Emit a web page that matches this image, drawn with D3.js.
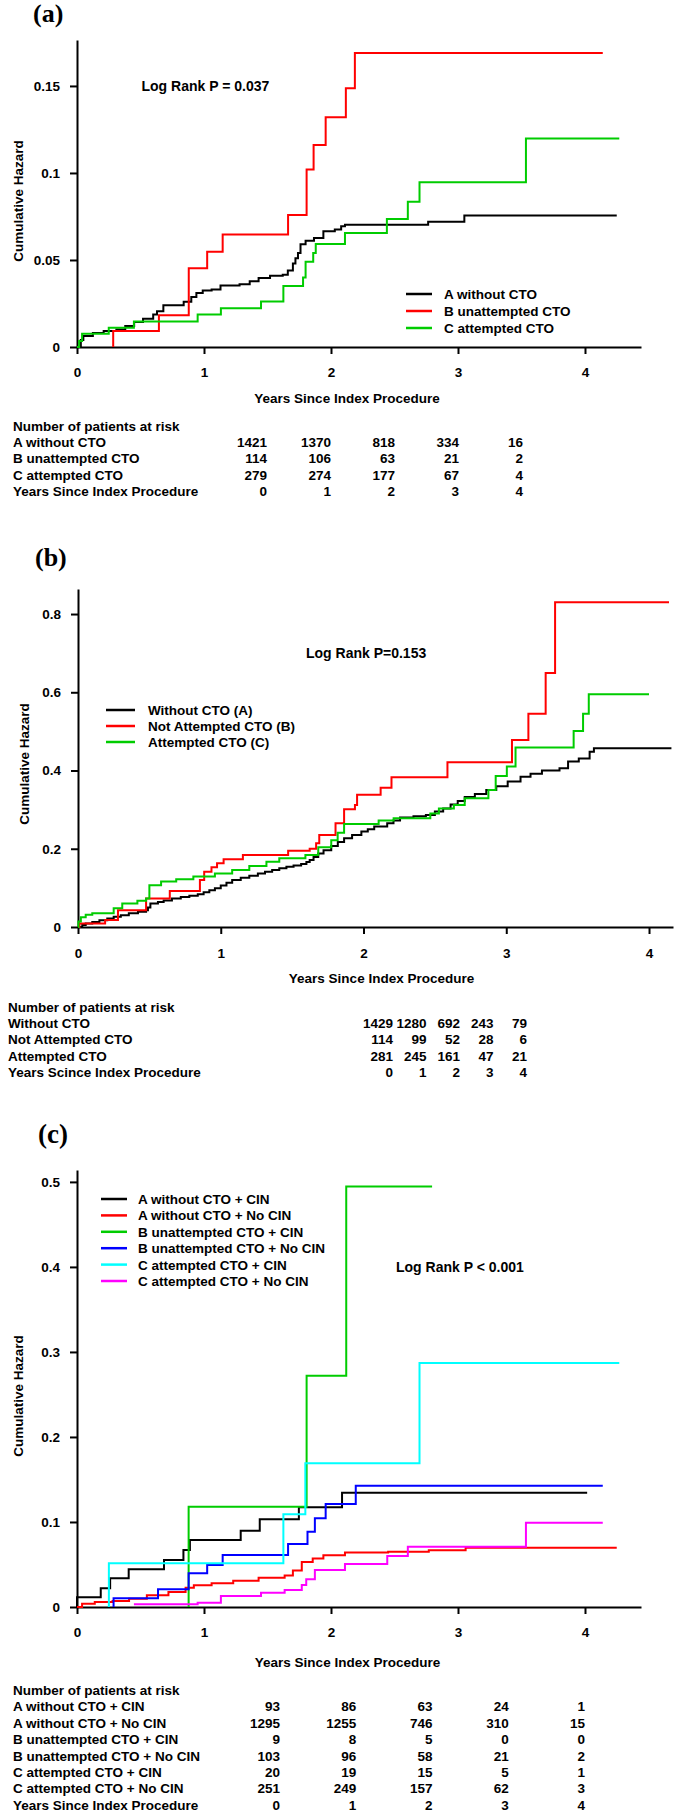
<!DOCTYPE html>
<html><head><meta charset="utf-8">
<script src="https://cdn.jsdelivr.net/npm/d3@7"></script>
<style>
body{margin:0;background:#fff;}
svg{display:block;}
text{font-family:Arial,"Liberation Sans",sans-serif;font-weight:bold;fill:#000;}
</style></head><body>
<svg id="chart" width="675" height="1812"></svg>
<script>
// ---------------- DATA ----------------
const yearTicks = [0, 1, 2, 3, 4];

// Panel (a)
const aNames = ["A without CTO", "B unattempted CTO", "C attempted CTO"];
const aYTicks = [0, 0.05, 0.1, 0.15];
const aLogRank = "Log Rank P = 0.037";
const aWithout = [[0,0],[0.03,0.004],[0.05,0.0063],[0.125,0.008],[0.21,0.0092],[0.31,0.010],[0.38,0.012],[0.45,0.0143],[0.52,0.0162],[0.6,0.0187],[0.63,0.0206],[0.68,0.024],[0.84,0.026],[0.9,0.0287],[0.94,0.031],[0.99,0.0325],[1.06,0.033],[1.13,0.0354],[1.28,0.036],[1.36,0.0378],[1.43,0.0397],[1.52,0.041],[1.62,0.0415],[1.66,0.044],[1.70,0.048],[1.72,0.051],[1.74,0.054],[1.76,0.059],[1.8,0.061],[1.866,0.0627],[1.94,0.0665],[2.03,0.0675],[2.08,0.0694],[2.11,0.0703],[2.765,0.072],[3.05,0.0755],[4.25,0.0755]];
const aUnattempted = [[0.285,0],[0.285,0.0092],[0.645,0.0182],[0.88,0.0453],[1.025,0.0547],[1.147,0.0646],[1.662,0.0759],[1.808,0.102],[1.863,0.116],[1.958,0.132],[2.117,0.1487],[2.188,0.169],[4.14,0.169]];
const aAttempted = [[0,0],[0.017,0.0034],[0.04,0.0076],[0.25,0.011],[0.448,0.0147],[0.95,0.0187],[1.133,0.0222],[1.449,0.0262],[1.625,0.035],[1.78,0.040],[1.8,0.049],[1.86,0.054],[1.88,0.0592],[2.11,0.0655],[2.44,0.0736],[2.605,0.0835],[2.697,0.0946],[3.535,0.1198],[4.27,0.1198]];
const aRiskLabels = ["A without CTO", "B unattempted CTO", "C attempted CTO", "Years Since Index Procedure"];
const aRiskWithout = [1421, 1370, 818, 334, 16];
const aRiskUnattempted = [114, 106, 63, 21, 2];
const aRiskAttempted = [279, 274, 177, 67, 4];

// Panel (b)
const bNames = ["Without CTO (A)", "Not Attempted CTO (B)", "Attempted CTO (C)"];
const bYTicks = [0, 0.2, 0.4, 0.6, 0.8];
const bLogRank = "Log Rank P=0.153";
const bWithout = [[0,0],[0.03,0.005],[0.054,0.009],[0.1,0.013],[0.15,0.017],[0.205,0.022],[0.25,0.026],[0.3,0.03],[0.356,0.035],[0.42,0.039],[0.477,0.043],[0.49,0.05],[0.507,0.06],[0.56,0.064],[0.6,0.068],[0.658,0.073],[0.72,0.077],[0.78,0.08],[0.839,0.084],[0.88,0.089],[0.92,0.094],[0.959,0.099],[1.0,0.106],[1.04,0.113],[1.08,0.12],[1.14,0.126],[1.2,0.131],[1.26,0.137],[1.31,0.141],[1.36,0.146],[1.41,0.15],[1.46,0.154],[1.51,0.157],[1.563,0.161],[1.6,0.166],[1.623,0.171],[1.65,0.179],[1.683,0.188],[1.72,0.196],[1.774,0.207],[1.82,0.217],[1.864,0.227],[1.92,0.235],[1.985,0.244],[2.03,0.25],[2.075,0.257],[2.166,0.265],[2.21,0.272],[2.256,0.28],[2.35,0.283],[2.437,0.286],[2.5,0.295],[2.558,0.303],[2.61,0.313],[2.66,0.322],[2.709,0.332],[2.78,0.34],[2.86,0.35],[2.93,0.36],[3.01,0.372],[3.1,0.384],[3.17,0.392],[3.25,0.40],[3.373,0.406],[3.433,0.423],[3.508,0.431],[3.584,0.448],[3.614,0.457],[4.157,0.457]];
const bNotAttempted = [[0,0],[0.01,0.009],[0.19,0.018],[0.28,0.043],[0.477,0.073],[0.643,0.092],[0.854,0.12],[0.884,0.1415],[0.935,0.153],[0.974,0.163],[1.02,0.173],[1.155,0.184],[1.472,0.195],[1.623,0.2],[1.668,0.214],[1.69,0.235],[1.804,0.265],[1.864,0.301],[1.94,0.312],[1.955,0.338],[2.12,0.356],[2.196,0.383],[2.588,0.421],[3.04,0.478],[3.155,0.545],[3.276,0.649],[3.342,0.83],[4.14,0.83]];
const bAttempted = [[0,0],[0.003,0.014],[0.02,0.025],[0.054,0.031],[0.1,0.035],[0.25,0.048],[0.31,0.06],[0.416,0.067],[0.477,0.073],[0.5,0.107],[0.582,0.116],[0.688,0.122],[0.808,0.129],[0.959,0.137],[1.08,0.146],[1.2,0.156],[1.32,0.167],[1.41,0.176],[1.593,0.184],[1.683,0.204],[1.774,0.222],[1.819,0.241],[1.864,0.263],[2.106,0.272],[2.211,0.278],[2.468,0.29],[2.528,0.303],[2.633,0.312],[2.709,0.329],[2.875,0.35],[2.926,0.386],[3.004,0.41],[3.065,0.459],[3.472,0.501],[3.538,0.545],[3.578,0.595],[4.0,0.595]];
const bRiskLabels = ["Without CTO", "Not Attempted CTO", "Attempted CTO", "Years Scince Index Procedure"];
const bRiskWithout = [1429, 1280, 692, 243, 79];
const bRiskNotAttempted = [114, 99, 52, 28, 6];
const bRiskAttempted = [281, 245, 161, 47, 21];

// Panel (c)
const cNames = ["A without CTO + CIN", "A without CTO + No CIN", "B unattempted CTO + CIN", "B unattempted CTO + No CIN", "C attempted CTO + CIN", "C attempted CTO + No CIN"];
const cYTicks = [0, 0.1, 0.2, 0.3, 0.4, 0.5];
const cLogRank = "Log Rank P < 0.001";
const cA_CIN = [[0,0],[0,0.0114],[0.187,0.022],[0.261,0.0337],[0.407,0.0443],[0.685,0.0553],[0.838,0.067],[0.889,0.0788],[1.289,0.0898],[1.439,0.1031],[1.747,0.1173],[2.087,0.1345],[4.017,0.1345]];
const cA_NoCIN = [[0,0],[0.04,0.0039],[0.14,0.0059],[0.28,0.007],[0.41,0.0098],[0.55,0.0137],[0.72,0.0176],[0.855,0.0227],[0.92,0.0255],[1.06,0.028],[1.23,0.031],[1.43,0.0345],[1.635,0.037],[1.7,0.043],[1.77,0.053],[1.856,0.057],[1.94,0.061],[2.11,0.064],[2.45,0.065],[2.77,0.0667],[3.06,0.0698],[4.25,0.0698]];
const cB_CIN = [[0.879,0],[0.879,0.118],[1.808,0.272],[2.12,0.4945],[2.796,0.4945]];
const cB_NoCIN = [[0.288,0],[0.288,0.0102],[0.638,0.0208],[0.879,0.0396],[1.025,0.0494],[1.147,0.0612],[1.662,0.0741],[1.815,0.0886],[1.873,0.1043],[1.958,0.1212],[2.195,0.1427],[4.14,0.1427]];
const cC_CIN = [[0.251,0],[0.251,0.0514],[1.625,0.109],[1.798,0.169],[2.697,0.287],[4.27,0.287]];
const cC_NoCIN = [[0.448,0.0031],[0.95,0.005],[1.133,0.0129],[1.449,0.0169],[1.635,0.02],[1.77,0.0259],[1.805,0.0325],[1.873,0.0435],[2.11,0.0506],[2.443,0.06],[2.605,0.071],[3.535,0.0992],[4.14,0.0992]];
const cRiskLabels = ["A without CTO + CIN", "A without CTO + No CIN", "B unattempted CTO + CIN", "B unattempted CTO + No CIN", "C attempted CTO + CIN", "C attempted CTO + No CIN", "Years Since Index Procedure"];
const cRiskA_CIN = [93, 86, 63, 24, 1];
const cRiskA_NoCIN = [1295, 1255, 746, 310, 15];
const cRiskB_CIN = [9, 8, 5, 0, 0];
const cRiskB_NoCIN = [103, 96, 58, 21, 2];
const cRiskC_CIN = [20, 19, 15, 5, 1];
const cRiskC_NoCIN = [251, 249, 157, 62, 3];

const riskHeader = "Number of patients at risk";
const xTitle = "Years Since Index Procedure";
const yTitle = "Cumulative Hazard";

// ---------------- DRAWING ----------------
const svg = d3.select("#chart");
const FS = 13.5;

function panel(cfg) {
  const g = svg.append("g");
  const x = d3.scaleLinear().domain(cfg.xDomain).range(cfg.xRange);
  const y = d3.scaleLinear().domain(cfg.yDomain).range(cfg.yRange);

  // panel label
  g.append("text").attr("x", cfg.label[1]).attr("y", cfg.label[2])
    .style("font-family", "'Liberation Serif','Times New Roman',serif")
    .style("font-size", cfg.label[3] + "px").text(cfg.label[0]);

  // axes
  const xAxis = d3.axisBottom(x).tickValues(yearTicks).tickFormat(d3.format("d"))
    .tickSize(7).tickSizeOuter(0).tickPadding(cfg.xPad);
  const yAxis = d3.axisLeft(y).tickValues(cfg.yTicks).tickFormat(d => d === 0 ? "0" : String(d))
    .tickSize(7).tickSizeOuter(0).tickPadding(10);
  const gx = g.append("g").attr("transform", `translate(0,${cfg.yRange[0]})`).call(xAxis);
  const gy = g.append("g").attr("transform", `translate(${cfg.xRange[0]},0)`).call(yAxis);
  [gx, gy].forEach(a => {
    a.select(".domain").attr("stroke", "#000").attr("stroke-width", 2);
    a.selectAll(".tick line").attr("stroke", "#000").attr("stroke-width", 2);
    a.selectAll(".tick text").style("font-family", "Arial,'Liberation Sans',sans-serif")
      .style("font-weight", "bold").style("font-size", FS + "px").attr("fill", "#000");
  });

  // axis titles
  g.append("text").attr("x", cfg.xTitle[0]).attr("y", cfg.xTitle[1])
    .attr("text-anchor", "middle").style("font-size", FS + "px").text(xTitle);
  g.append("text").attr("transform", `translate(${cfg.yTitle[0]},${cfg.yTitle[1]}) rotate(-90)`)
    .attr("text-anchor", "middle").style("font-size", FS + "px").text(yTitle);

  // curves
  const line = d3.line().x(d => x(d[0])).y(d => y(d[1])).curve(d3.curveStepAfter);
  cfg.series.forEach((s, i) => {
    g.append("path").datum(s).attr("d", line).attr("fill", "none")
      .attr("stroke", cfg.colors[i]).attr("stroke-width", 2);
  });

  // log rank
  g.append("text").attr("x", cfg.logRank[1]).attr("y", cfg.logRank[2])
    .style("font-size", "14px").text(cfg.logRank[0]);

  // legend
  const lg = cfg.legend;
  cfg.names.forEach((n, i) => {
    const yy = lg.y0 + i * lg.dy;
    g.append("line").attr("x1", lg.x1).attr("x2", lg.x2).attr("y1", yy).attr("y2", yy)
      .attr("stroke", cfg.colors[i]).attr("stroke-width", 2.5);
    g.append("text").attr("x", lg.tx).attr("y", yy + 5).style("font-size", FS + "px").text(n);
  });

  // risk table
  const rt = cfg.risk;
  const col = d3.scaleLinear().domain([0, 4]).range(rt.cols);
  g.append("text").attr("x", rt.x).attr("y", rt.y0 + 5).style("font-size", FS + "px").text(riskHeader);
  rt.labels.forEach((lab, i) => {
    const yy = rt.y0 + (i + 1) * rt.dy + 5;
    g.append("text").attr("x", rt.x).attr("y", yy).style("font-size", FS + "px").text(lab);
    const vals = i < rt.rows.length ? rt.rows[i] : yearTicks;
    vals.forEach((v, j) => {
      g.append("text").attr("x", col(j)).attr("y", yy).attr("text-anchor", "end")
        .style("font-size", FS + "px").text(v);
    });
  });
}

panel({
  label: ["(a)", 33, 22, 26],
  xDomain: [0, 4.441], xRange: [77, 641],
  yDomain: [0, 0.1764], yRange: [347, 40],
  yTicks: aYTicks, xPad: 13,
  xTitle: [347, 403], yTitle: [22.5, 201],
  series: [aWithout, aUnattempted, aAttempted],
  colors: ["#000000", "#ff0000", "#00cc00"],
  names: aNames,
  logRank: [aLogRank, 141.5, 91],
  legend: { x1: 406, x2: 432, tx: 444, y0: 294, dy: 17 },
  risk: { x: 13, y0: 425.7, dy: 16.3, cols: [267, 523], labels: aRiskLabels,
          rows: [aRiskWithout, aRiskUnattempted, aRiskAttempted] }
});

panel({
  label: ["(b)", 35, 566, 26],
  xDomain: [0, 4.168], xRange: [78, 673],
  yDomain: [0, 0.864], yRange: [927, 589],
  yTicks: bYTicks, xPad: 14,
  xTitle: [381.5, 983], yTitle: [29, 764],
  series: [bWithout, bNotAttempted, bAttempted],
  colors: ["#000000", "#ff0000", "#00cc00"],
  names: bNames,
  logRank: [bLogRank, 306, 658],
  legend: { x1: 106, x2: 135, tx: 148, y0: 710, dy: 16 },
  risk: { x: 8, y0: 1006.7, dy: 16.3, cols: [393, 527], labels: bRiskLabels,
          rows: [bRiskWithout, bRiskNotAttempted, bRiskAttempted] }
});

panel({
  label: ["(c)", 38, 1143, 27],
  xDomain: [0, 4.441], xRange: [77, 641],
  yDomain: [0, 0.514], yRange: [1607, 1170],
  yTicks: cYTicks, xPad: 13,
  xTitle: [347.5, 1667], yTitle: [22.5, 1396],
  series: [cA_CIN, cA_NoCIN, cB_CIN, cB_NoCIN, cC_CIN, cC_NoCIN],
  colors: ["#000000", "#ff0000", "#00cc00", "#0000ff", "#00ffff", "#ff00ff"],
  names: cNames,
  logRank: [cLogRank, 396, 1272],
  legend: { x1: 101, x2: 127, tx: 138, y0: 1199, dy: 16.4 },
  risk: { x: 13, y0: 1690, dy: 16.4, cols: [280, 585], labels: cRiskLabels,
          rows: [cRiskA_CIN, cRiskA_NoCIN, cRiskB_CIN, cRiskB_NoCIN, cRiskC_CIN, cRiskC_NoCIN] }
});
</script>
</body></html>
